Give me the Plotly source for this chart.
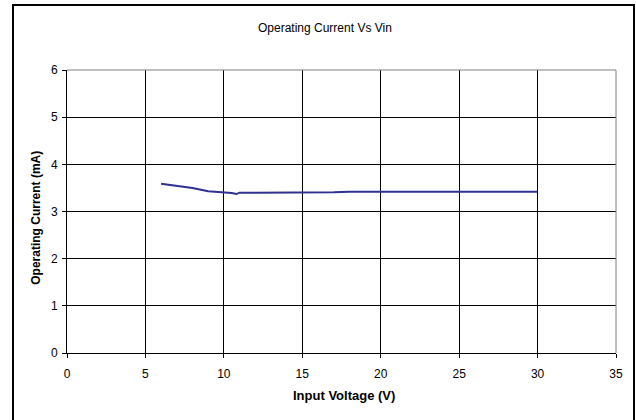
import plotly.graph_objects as go

vin = [6, 7, 8, 9, 9.5, 10, 10.5, 10.8, 11, 12, 14, 16, 17, 18, 20, 25, 30]
current_ma = [3.59, 3.55, 3.50, 3.43, 3.42, 3.41, 3.39, 3.37, 3.40, 3.40, 3.40, 3.40, 3.41, 3.42, 3.42, 3.42, 3.42]

x_ticks = [0, 5, 10, 15, 20, 25, 30, 35]
y_ticks = [0, 1, 2, 3, 4, 5, 6]

W, H = 636, 420
L, R, T, B = 67, 20, 70, 66.5
pw, ph = W - L - R, H - T - B

def px(xp):
    return (xp - L) / pw

def py(yp):
    return (H - B - yp) / ph

fam = "Liberation Sans, Arial, sans-serif"
font = dict(family=fam, size=12, color="black")
bold = dict(family=fam, size=13, color="black")
bold_y = dict(family=fam, size=12, color="black")

fig = go.Figure()
fig.add_trace(go.Scatter(x=vin, y=current_ma, mode="lines",
                         line=dict(color="#2E3192", width=2), showlegend=False,
                         hoverinfo="skip"))

fig.update_layout(
    width=W, height=H,
    margin=dict(l=L, r=R, t=T, b=B),
    paper_bgcolor="white", plot_bgcolor="white",
    font=font,
    showlegend=False,
    xaxis=dict(range=[0, 35], tickvals=x_ticks, ticktext=[str(v) for v in x_ticks],
               showgrid=True, gridcolor="black", gridwidth=1,
               showline=True, linecolor="black", linewidth=1,
               ticks="outside", ticklen=4, tickcolor="black",
               ticklabelstandoff=6,
               zeroline=False, tickfont=font),
    yaxis=dict(range=[0, 6], tickvals=y_ticks, ticktext=[str(v) for v in y_ticks],
               showgrid=True, gridcolor="black", gridwidth=1,
               showline=True, linecolor="black", linewidth=1,
               ticks="outside", ticklen=4, tickcolor="black",
               ticklabelstandoff=2,
               zeroline=False, tickfont=font),
    shapes=[
        dict(type="line", xref="paper", yref="paper", x0=0, x1=1, y0=1, y1=1,
             line=dict(color="#808080", width=1), layer="above"),
        dict(type="line", xref="paper", yref="paper", x0=1, x1=1, y0=0, y1=1,
             line=dict(color="#808080", width=1), layer="above"),
        dict(type="rect", xref="paper", yref="paper",
             x0=px(13), x1=px(634), y0=py(430), y1=py(5),
             line=dict(color="black", width=2), fillcolor="rgba(0,0,0,0)", layer="below"),
    ],
    annotations=[
        dict(text="Operating Current Vs Vin", xref="paper", yref="paper",
             x=px(325), y=py(27.5), showarrow=False, font=font,
             xanchor="center", yanchor="middle"),
        dict(text="<b>Input Voltage (V)</b>", xref="paper", yref="paper",
             x=px(344), y=py(396), showarrow=False, font=bold,
             xanchor="center", yanchor="middle"),
        dict(text="<b>Operating Current (mA)</b>", xref="paper", yref="paper",
             x=px(36), y=py(218), showarrow=False, font=bold_y, textangle=-90,
             xanchor="center", yanchor="middle"),
    ],
)

fig.write_html("out.html", config={"displayModeBar": False},
               post_script="document.body.style.margin='0';")
